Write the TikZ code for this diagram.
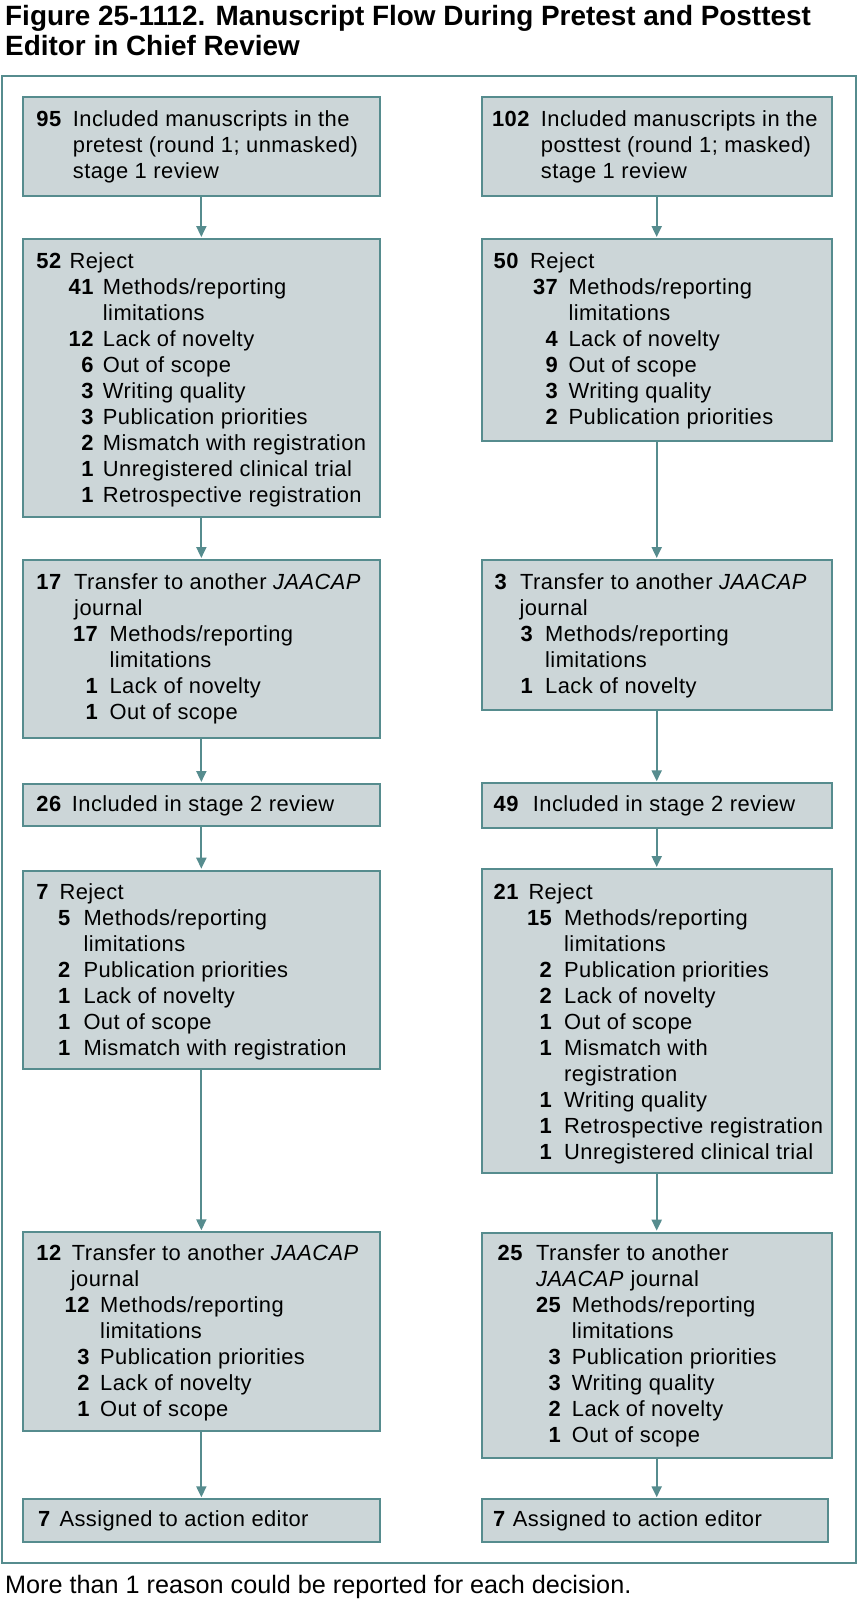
\documentclass[tikz,border=0pt]{standalone}
\usepackage{fontspec}
\setmainfont{Liberation Sans}
\newfontfamily\boxfont{Liberation Sans}[LetterSpace=2.0]
\usetikzlibrary{arrows.meta,calc}
\definecolor{boxfill}{RGB}{204,214,216}
\definecolor{flowteal}{RGB}{86,140,142}
\newcommand\hd[4]{\hbox{\hbox to #1pt{\hfil\bfseries #2}\hskip\dimexpr #3pt-#1pt\relax #4}}
\newcommand\ct[2]{\hbox{\hskip #1pt\relax #2}}
\newcommand\blk[1]{\vtop{\baselineskip=26pt\lineskiplimit=-\maxdimen\lineskip=0pt #1}}
\newcommand\flow[7]{%
  \node[flowbox, minimum width={(#4-#2)*1pt}, minimum height={(#5-#3)*1pt}, anchor=north west] (#1) at (#2,#3) {};
  \node[flowtext, anchor=base west] (#1t) at ($(#1.north west)+(0,#6)$) {\blk{#7}};
}
\tikzset{
  flowbox/.style={draw=flowteal, fill=boxfill, line width=2pt, inner sep=0pt, outer sep=0pt},
  flowtext/.style={inner sep=0pt, font=\boxfont\fontsize{21.9}{26}\selectfont},
  flowarrow/.style={draw=flowteal, line width=2pt, -{Triangle[length=11pt,width=10pt]}, shorten >=2pt},
  frame/.style={draw=flowteal, line width=2pt}
}
\begin{document}
\begin{tikzpicture}[x=1pt,y=-1pt]
\useasboundingbox (0,0) rectangle (858,1600);
\node[anchor=base west, inner sep=0pt, font=\fontsize{27.9}{28}\selectfont\bfseries] (title) at (5,26)
  {\vtop{\baselineskip=29.5pt\lineskiplimit=-\maxdimen\lineskip=0pt
    \hbox{Figure 25-1112. Manuscript Flow During Pretest and Posttest}
    \hbox{Editor in Chief Review}}};
\draw[frame] (2,76) rectangle (855.7,1563.3);
% left column
\flow{L1}{22.7}{96.7}{380}{195.7}{30}{%
  \hd{38.3}{95}{50}{Included manuscripts in the}
  \ct{50}{pretest (round 1; unmasked)}
  \ct{50}{stage 1 review}}
\flow{L2}{22.7}{239}{380}{517.3}{29.3}{%
  \hd{38.3}{52}{46.7}{Reject}
  \hd{70.6}{41}{80}{Methods/reporting}
  \ct{80}{limitations}
  \hd{70.6}{12}{80}{Lack of novelty}
  \hd{70.6}{6}{80}{Out of scope}
  \hd{70.6}{3}{80}{Writing quality}
  \hd{70.6}{3}{80}{Publication priorities}
  \hd{70.6}{2}{80}{Mismatch with registration}
  \hd{70.6}{1}{80}{Unregistered clinical trial}
  \hd{70.6}{1}{80}{Retrospective registration}}
\flow{L3}{22.7}{560}{380}{738.3}{29.3}{%
  \hd{38.3}{17}{51.3}{Transfer to another \textit{JAACAP}}
  \ct{51.3}{journal}
  \hd{75}{17}{86.7}{Methods/reporting}
  \ct{86.7}{limitations}
  \hd{75}{1}{86.7}{Lack of novelty}
  \hd{75}{1}{86.7}{Out of scope}}
\flow{L4}{22.7}{784}{380}{826}{27.7}{%
  \hd{38.3}{26}{49}{Included in stage 2 review}}
\flow{L5}{22.7}{870.7}{380}{1069}{28.3}{%
  \hd{25.7}{7}{36.6}{Reject}
  \hd{47.3}{5}{60.6}{Methods/reporting}
  \ct{60.6}{limitations}
  \hd{47.3}{2}{60.6}{Publication priorities}
  \hd{47.3}{1}{60.6}{Lack of novelty}
  \hd{47.3}{1}{60.6}{Out of scope}
  \hd{47.3}{1}{60.6}{Mismatch with registration}}
\flow{L6}{22.7}{1232.3}{380}{1430.7}{28.4}{%
  \hd{38.3}{12}{49}{Transfer to another \textit{JAACAP}}
  \ct{48}{journal}
  \hd{66.6}{12}{77.3}{Methods/reporting}
  \ct{77.3}{limitations}
  \hd{66.6}{3}{77.3}{Publication priorities}
  \hd{66.6}{2}{77.3}{Lack of novelty}
  \hd{66.6}{1}{77.3}{Out of scope}}
\flow{L7}{22.7}{1499.3}{380}{1541.7}{26.7}{%
  \hd{27.3}{7}{36.6}{Assigned to action editor}}
% right column
\flow{R1}{481.7}{96.7}{831.7}{195.7}{30}{%
  \hd{47.6}{102}{59}{Included manuscripts in the}
  \ct{59}{posttest (round 1; masked)}
  \ct{59}{stage 1 review}}
\flow{R2}{481.7}{239}{831.7}{440.7}{29.3}{%
  \hd{36.6}{50}{48.3}{Reject}
  \hd{76}{37}{86.7}{Methods/reporting}
  \ct{86.7}{limitations}
  \hd{76}{4}{86.7}{Lack of novelty}
  \hd{76}{9}{86.7}{Out of scope}
  \hd{76}{3}{86.7}{Writing quality}
  \hd{76}{2}{86.7}{Publication priorities}}
\flow{R3}{481.7}{560}{831.7}{710}{29.3}{%
  \hd{25}{3}{38.3}{Transfer to another \textit{JAACAP}}
  \ct{37.6}{journal}
  \hd{51}{3}{63.3}{Methods/reporting}
  \ct{63.3}{limitations}
  \hd{51}{1}{63.3}{Lack of novelty}}
\flow{R4}{481.7}{783.3}{831.7}{827.7}{28.4}{%
  \hd{36.6}{49}{51}{Included in stage 2 review}}
\flow{R5}{481.7}{869}{831.7}{1173.3}{30}{%
  \hd{36.6}{21}{46.6}{Reject}
  \hd{70}{15}{82.3}{Methods/reporting}
  \ct{82.3}{limitations}
  \hd{70}{2}{82.3}{Publication priorities}
  \hd{70}{2}{82.3}{Lack of novelty}
  \hd{70}{1}{82.3}{Out of scope}
  \hd{70}{1}{82.3}{Mismatch with}
  \ct{82.3}{registration}
  \hd{70}{1}{82.3}{Writing quality}
  \hd{70}{1}{82.3}{Retrospective registration}
  \hd{70}{1}{82.3}{Unregistered clinical trial}}
\flow{R6}{481.7}{1232.7}{831.7}{1457.7}{28}{%
  \hd{40.6}{25}{54.3}{Transfer to another}
  \ct{54.3}{\textit{JAACAP} journal}
  \hd{79}{25}{90}{Methods/reporting}
  \ct{90}{limitations}
  \hd{79}{3}{90}{Publication priorities}
  \hd{79}{3}{90}{Writing quality}
  \hd{79}{2}{90}{Lack of novelty}
  \hd{79}{1}{90}{Out of scope}}
\flow{R7}{481.7}{1499.3}{828.3}{1541.7}{26.7}{%
  \hd{23.3}{7}{31}{Assigned to action editor}}
% arrows
\foreach \a/\b in {L1/L2,L2/L3,L3/L4,L4/L5,L5/L6,L6/L7,R1/R2,R2/R3,R3/R4,R4/R5,R5/R6,R6/R7}
  \draw[flowarrow] (\a.south) -- (\a.south |- \b.north);
\node[anchor=base west, inner sep=0pt, font=\fontsize{25.2}{26}\selectfont] (note) at (5,1593)
  {More than 1 reason could be reported for each decision.};
\end{tikzpicture}
\end{document}
